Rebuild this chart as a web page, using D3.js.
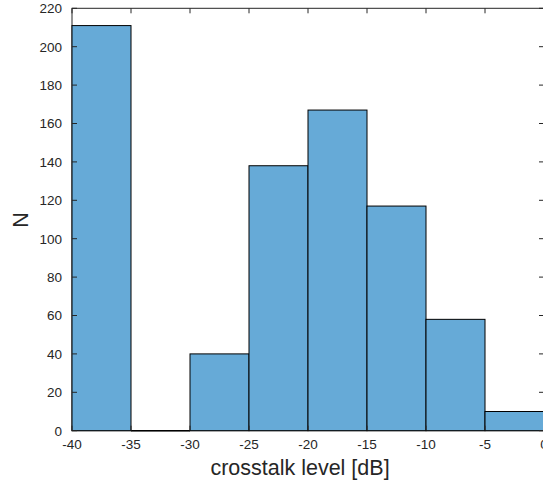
<!DOCTYPE html>
<html lang="en">
<head>
    <meta charset="UTF-8">
    <title>Crosstalk histogram</title>
    <style>
        body { margin: 0; background: #fff; }
        svg { display: block; font-family: "Liberation Sans", Arial, sans-serif; }
    </style>
    <script src="https://d3js.org/d3.v7.min.js"></script>
</head>
<body>
    <svg width="543" height="487"></svg>
    <script>
        // histogram bins (edges in dB) and counts
        const binEdges = [-40, -35, -30, -25, -20, -15, -10, -5, 0];
        const counts = [211, 0, 40, 138, 167, 117, 58, 10];
        const xTicks = [-40, -35, -30, -25, -20, -15, -10, -5, 0];
        const yTicks = [0, 20, 40, 60, 80, 100, 120, 140, 160, 180, 200, 220];

        const svg = d3.select("svg");
        const plotL = 72, plotR = 544, plotT = 8.3, plotB = 430.7;
        const axisColor = "#262626";

        const x = d3.scaleLinear().domain([-40, 0]).range([plotL, plotR]);
        const y = d3.scaleLinear().domain([0, 220]).range([plotB, plotT]);

        const bins = counts.map((c, i) => ({x0: binEdges[i], x1: binEdges[i + 1], n: c}));

        // box
        svg.append("rect")
            .attr("x", plotL).attr("y", plotT)
            .attr("width", plotR - plotL).attr("height", plotB - plotT)
            .attr("fill", "none").attr("stroke", axisColor).attr("stroke-width", 1);

        // bars
        svg.append("g")
            .selectAll("rect")
            .data(bins)
            .enter().append("rect")
            .attr("x", d => x(d.x0))
            .attr("y", d => y(d.n))
            .attr("width", d => x(d.x1) - x(d.x0))
            .attr("height", d => y(0) - y(d.n))
            .attr("fill", "#66aad7")
            .attr("stroke", "#000")
            .attr("stroke-width", 1);

        // empty bins still get their outline at the base
        svg.append("g")
            .selectAll("line")
            .data(bins.filter(d => d.n === 0))
            .enter().append("line")
            .attr("x1", d => x(d.x0)).attr("x2", d => x(d.x1))
            .attr("y1", y(0)).attr("y2", y(0))
            .attr("stroke", "#000").attr("stroke-width", 1.5);

        // ticks (inside, all four sides)
        const tl = 5;
        const tg = svg.append("g").attr("stroke", axisColor).attr("stroke-width", 1);
        xTicks.forEach(t => {
            tg.append("line").attr("x1", x(t)).attr("x2", x(t)).attr("y1", plotB).attr("y2", plotB - tl);
            tg.append("line").attr("x1", x(t)).attr("x2", x(t)).attr("y1", plotT).attr("y2", plotT + tl);
        });
        yTicks.forEach(t => {
            tg.append("line").attr("x1", plotL).attr("x2", plotL + tl).attr("y1", y(t)).attr("y2", y(t));
            tg.append("line").attr("x1", plotR).attr("x2", plotR - tl).attr("y1", y(t)).attr("y2", y(t));
        });

        // tick labels
        svg.append("g").selectAll("text")
            .data(xTicks).enter().append("text")
            .attr("x", d => x(d)).attr("y", plotB + 18)
            .attr("text-anchor", "middle")
            .attr("font-size", 13.5).attr("fill", axisColor)
            .text(d => d);

        svg.append("g").selectAll("text")
            .data(yTicks).enter().append("text")
            .attr("x", plotL - 10).attr("y", d => y(d) + 4.8)
            .attr("text-anchor", "end")
            .attr("font-size", 13.5).attr("fill", axisColor)
            .text(d => d);

        // axis labels
        svg.append("text")
            .attr("x", 300).attr("y", 475)
            .attr("text-anchor", "middle")
            .attr("font-size", 21.5).attr("fill", axisColor)
            .text("crosstalk level [dB]");

        svg.append("text")
            .attr("transform", "translate(28, 220) rotate(-90)")
            .attr("text-anchor", "middle")
            .attr("font-size", 21.5).attr("fill", axisColor)
            .text("N");
    </script>
</body>
</html>
